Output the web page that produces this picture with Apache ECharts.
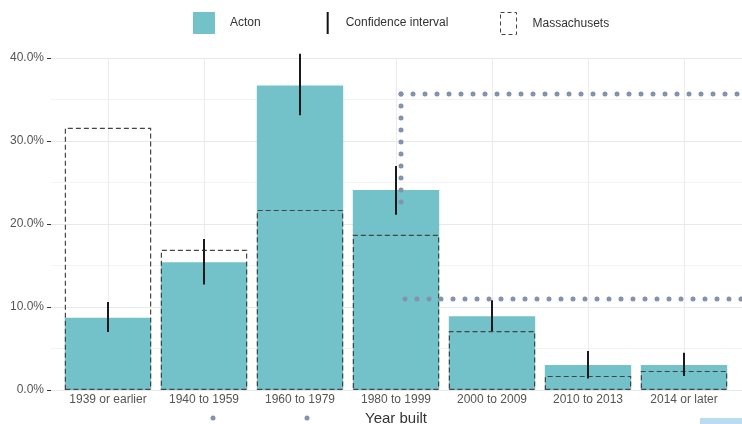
<!DOCTYPE html>
<html>
<head>
<meta charset="utf-8">
<script src="https://cdn.jsdelivr.net/npm/echarts@6/dist/echarts.min.js"></script>
<style>
  html, body { margin: 0; padding: 0; background: #fff; }
  #chart { width: 742px; height: 424px; }
</style>
</head>
<body>
<div id="chart"></div>
<script>
  let categories = ['1939 or earlier', '1940 to 1959', '1960 to 1979', '1980 to 1999', '2000 to 2009', '2010 to 2013', '2014 or later']
  let actonData = [8.7, 15.4, 36.7, 24.1, 8.9, 3.0, 3.0]
  let ciLow = [7.0, 12.7, 33.1, 21.1, 7.1, 1.4, 1.7]
  let ciHigh = [10.6, 18.2, 40.5, 27.0, 10.8, 4.7, 4.5]
  let maData = [31.6, 16.9, 21.7, 18.7, 7.1, 1.7, 2.3]
  let yTicks = [0, 10, 20, 30, 40]

  let chart = echarts.init(document.getElementById('chart'))

  // dotted overlay lines seen on the picture (not data)
  let dotStyle = {
    stroke: '#8393ab',
    lineWidth: 5,
    lineCap: 'round',
    lineDash: [0, 12]
  }

  let legendText = { fontSize: 12, color: '#333', padding: [0, 0, 0, 8] }

  chart.setOption({
    animation: false,
    textStyle: { fontFamily: 'Liberation Sans, Arial, sans-serif' },
    legend: [
      {
        top: 7,
        left: 188,
        itemWidth: 22,
        itemHeight: 22,
        itemGap: 66,
        textStyle: legendText,
        data: [
          { name: 'Acton', icon: 'rect', textStyle: { padding: [0, 15, 0, 10] } },
          { name: 'Confidence interval', icon: 'path://M0,0h2v22h-2z', textStyle: { padding: [0, 0, 0, 2] } }
        ]
      },
      {
        top: 7,
        left: 495,
        itemWidth: 22,
        itemHeight: 22,
        textStyle: legendText,
        data: [
          {
            name: 'Massachusets',
            icon: 'path://M0,0h16v22h-16z',
            itemStyle: { color: 'rgba(0,0,0,0)', borderColor: '#444', borderWidth: 1, borderType: [4, 3] }
          }
        ]
      }
    ],
    grid: [
      // bars
      { left: 60, right: 10, top: 58, bottom: 34, outerBoundsMode: 'none' },
      // full-width panel for y labels and horizontal grid lines
      { left: 51, right: 0, top: 58, bottom: 34, outerBoundsMode: 'none' }
    ],
    xAxis: [
      {
        type: 'category',
        gridIndex: 0,
        data: categories,
        name: 'Year built',
        nameLocation: 'middle',
        nameGap: 11,
        nameTextStyle: { fontSize: 15, color: '#333' },
        axisLine: { show: false },
        axisTick: { show: false, alignWithLabel: true },
        axisLabel: { fontSize: 12, color: '#555', margin: 4, interval: 0 },
        splitLine: { show: true, alignWithLabel: true, lineStyle: { color: '#ebebeb', width: 1 } }
      },
      { type: 'value', gridIndex: 1, show: false, min: 0, max: 1 }
    ],
    yAxis: [
      {
        type: 'value',
        gridIndex: 0,
        min: 0,
        max: 40,
        interval: 10,
        show: false
      },
      {
        type: 'value',
        gridIndex: 1,
        min: 0,
        max: 40,
        interval: 10,
        axisLine: { show: false },
        axisTick: { show: true, length: 4, lineStyle: { color: '#333' } },
        axisLabel: {
          fontSize: 12,
          color: '#555',
          margin: 7,
          formatter: function (v) { return yTicks.indexOf(v) >= 0 ? v.toFixed(1) + '%' : '' }
        },
        splitLine: { lineStyle: { color: '#e8e8e8' } },
        minorTick: { show: false, splitNumber: 2 },
        minorSplitLine: { show: true, lineStyle: { color: '#f3f3f3' } }
      }
    ],
    series: [
      {
        name: 'Acton',
        type: 'bar',
        data: actonData,
        barCategoryGap: '10%',
        itemStyle: { color: '#73c2c9' },
        z: 2
      },
      {
        name: 'Massachusets',
        type: 'bar',
        data: maData,
        barGap: '-100%',
        barCategoryGap: '10%',
        itemStyle: {
          color: 'rgba(0,0,0,0)',
          borderColor: '#444',
          borderWidth: 1.2,
          borderType: [5, 3]
        },
        z: 3
      },
      {
        name: 'Confidence interval',
        type: 'custom',
        itemStyle: { color: '#111' },
        clip: false,
        renderItem: function (params, api) {
          let p1 = api.coord([api.value(0), api.value(1)])
          let p2 = api.coord([api.value(0), api.value(2)])
          return {
            type: 'line',
            shape: { x1: p1[0], y1: p1[1], x2: p2[0], y2: p2[1] },
            style: { stroke: '#1a1a1a', lineWidth: 2 }
          }
        },
        data: categories.map(function (c, i) { return [i, ciLow[i], ciHigh[i]] }),
        z: 4
      }
    ],
    graphic: [
      { type: 'line', z: 10, shape: { x1: 401, y1: 94, x2: 401, y2: 206 }, style: dotStyle },
      { type: 'line', z: 10, shape: { x1: 401, y1: 94, x2: 742, y2: 94 }, style: dotStyle },
      { type: 'line', z: 10, shape: { x1: 405, y1: 299, x2: 742, y2: 299 }, style: dotStyle },
      { type: 'circle', z: 10, shape: { cx: 213, cy: 418, r: 2.5 }, style: { fill: '#8393ab' } },
      { type: 'circle', z: 10, shape: { cx: 307, cy: 418, r: 2.5 }, style: { fill: '#8393ab' } },
      { type: 'rect', z: 10, shape: { x: 700, y: 418, width: 42, height: 6 }, style: { fill: '#b9dcf1' } }
    ]
  })
</script>
</body>
</html>
